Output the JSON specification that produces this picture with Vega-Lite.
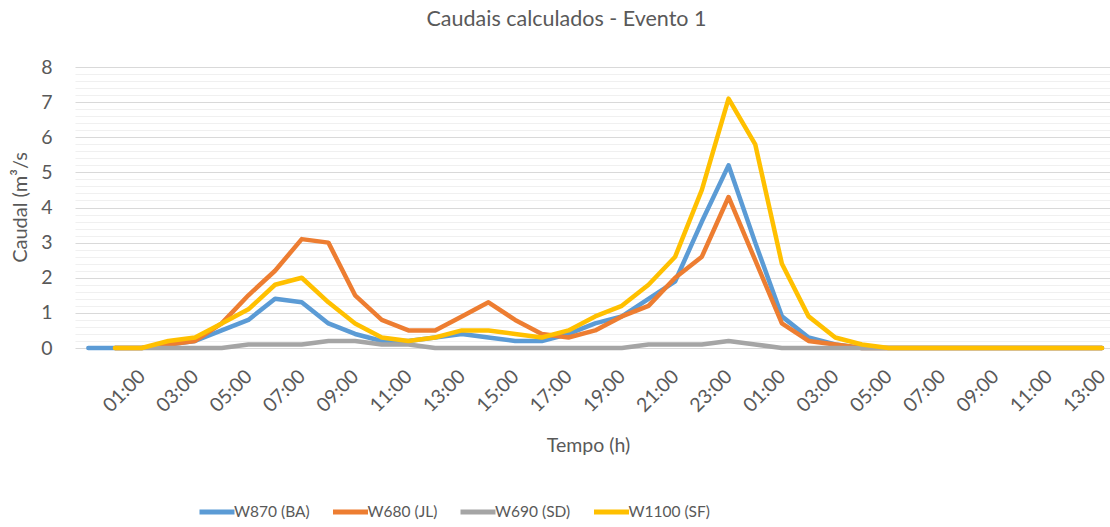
{
  "$schema": "https://vega.github.io/schema/vega-lite/v6.json",
  "width": 1035,
  "height": 281,
  "autosize": {"type": "none"},
  "padding": {"left": 75, "top": 67, "right": 0, "bottom": 179},
  "background": "white",
  "title": {
    "text": "Caudais calculados  - Evento 1",
    "anchor": "middle",
    "frame": "group",
    "dx": -26,
    "offset": 27,
    "font": "Lato",
    "fontSize": 21.5,
    "fontWeight": "normal",
    "color": "#595959"
  },
  "datasets": {
    "caudais": [
      {"passo": 0, "serie": "W870 (BA)", "caudal": 0},
      {"passo": 1, "serie": "W870 (BA)", "caudal": 0},
      {"passo": 2, "serie": "W870 (BA)", "caudal": 0},
      {"passo": 3, "serie": "W870 (BA)", "caudal": 0.1},
      {"passo": 4, "serie": "W870 (BA)", "caudal": 0.2},
      {"passo": 5, "serie": "W870 (BA)", "caudal": 0.5},
      {"passo": 6, "serie": "W870 (BA)", "caudal": 0.8},
      {"passo": 7, "serie": "W870 (BA)", "caudal": 1.4},
      {"passo": 8, "serie": "W870 (BA)", "caudal": 1.3},
      {"passo": 9, "serie": "W870 (BA)", "caudal": 0.7},
      {"passo": 10, "serie": "W870 (BA)", "caudal": 0.4},
      {"passo": 11, "serie": "W870 (BA)", "caudal": 0.2},
      {"passo": 12, "serie": "W870 (BA)", "caudal": 0.2},
      {"passo": 13, "serie": "W870 (BA)", "caudal": 0.3},
      {"passo": 14, "serie": "W870 (BA)", "caudal": 0.4},
      {"passo": 15, "serie": "W870 (BA)", "caudal": 0.3},
      {"passo": 16, "serie": "W870 (BA)", "caudal": 0.2},
      {"passo": 17, "serie": "W870 (BA)", "caudal": 0.2},
      {"passo": 18, "serie": "W870 (BA)", "caudal": 0.4},
      {"passo": 19, "serie": "W870 (BA)", "caudal": 0.7},
      {"passo": 20, "serie": "W870 (BA)", "caudal": 0.9},
      {"passo": 21, "serie": "W870 (BA)", "caudal": 1.4},
      {"passo": 22, "serie": "W870 (BA)", "caudal": 1.9},
      {"passo": 23, "serie": "W870 (BA)", "caudal": 3.6},
      {"passo": 24, "serie": "W870 (BA)", "caudal": 5.2},
      {"passo": 25, "serie": "W870 (BA)", "caudal": 3.0},
      {"passo": 26, "serie": "W870 (BA)", "caudal": 0.9},
      {"passo": 27, "serie": "W870 (BA)", "caudal": 0.3},
      {"passo": 28, "serie": "W870 (BA)", "caudal": 0.1},
      {"passo": 29, "serie": "W870 (BA)", "caudal": 0},
      {"passo": 30, "serie": "W870 (BA)", "caudal": 0},
      {"passo": 31, "serie": "W870 (BA)", "caudal": 0},
      {"passo": 32, "serie": "W870 (BA)", "caudal": 0},
      {"passo": 33, "serie": "W870 (BA)", "caudal": 0},
      {"passo": 34, "serie": "W870 (BA)", "caudal": 0},
      {"passo": 35, "serie": "W870 (BA)", "caudal": 0},
      {"passo": 36, "serie": "W870 (BA)", "caudal": 0},
      {"passo": 37, "serie": "W870 (BA)", "caudal": 0},
      {"passo": 38, "serie": "W870 (BA)", "caudal": 0},

      {"passo": 1, "serie": "W680 (JL)", "caudal": 0},
      {"passo": 2, "serie": "W680 (JL)", "caudal": 0},
      {"passo": 3, "serie": "W680 (JL)", "caudal": 0.1},
      {"passo": 4, "serie": "W680 (JL)", "caudal": 0.2},
      {"passo": 5, "serie": "W680 (JL)", "caudal": 0.7},
      {"passo": 6, "serie": "W680 (JL)", "caudal": 1.5},
      {"passo": 7, "serie": "W680 (JL)", "caudal": 2.2},
      {"passo": 8, "serie": "W680 (JL)", "caudal": 3.1},
      {"passo": 9, "serie": "W680 (JL)", "caudal": 3.0},
      {"passo": 10, "serie": "W680 (JL)", "caudal": 1.5},
      {"passo": 11, "serie": "W680 (JL)", "caudal": 0.8},
      {"passo": 12, "serie": "W680 (JL)", "caudal": 0.5},
      {"passo": 13, "serie": "W680 (JL)", "caudal": 0.5},
      {"passo": 14, "serie": "W680 (JL)", "caudal": 0.9},
      {"passo": 15, "serie": "W680 (JL)", "caudal": 1.3},
      {"passo": 16, "serie": "W680 (JL)", "caudal": 0.8},
      {"passo": 17, "serie": "W680 (JL)", "caudal": 0.4},
      {"passo": 18, "serie": "W680 (JL)", "caudal": 0.3},
      {"passo": 19, "serie": "W680 (JL)", "caudal": 0.5},
      {"passo": 20, "serie": "W680 (JL)", "caudal": 0.9},
      {"passo": 21, "serie": "W680 (JL)", "caudal": 1.2},
      {"passo": 22, "serie": "W680 (JL)", "caudal": 2.0},
      {"passo": 23, "serie": "W680 (JL)", "caudal": 2.6},
      {"passo": 24, "serie": "W680 (JL)", "caudal": 4.3},
      {"passo": 25, "serie": "W680 (JL)", "caudal": 2.5},
      {"passo": 26, "serie": "W680 (JL)", "caudal": 0.7},
      {"passo": 27, "serie": "W680 (JL)", "caudal": 0.2},
      {"passo": 28, "serie": "W680 (JL)", "caudal": 0.1},
      {"passo": 29, "serie": "W680 (JL)", "caudal": 0},
      {"passo": 30, "serie": "W680 (JL)", "caudal": 0},
      {"passo": 31, "serie": "W680 (JL)", "caudal": 0},
      {"passo": 32, "serie": "W680 (JL)", "caudal": 0},
      {"passo": 33, "serie": "W680 (JL)", "caudal": 0},
      {"passo": 34, "serie": "W680 (JL)", "caudal": 0},
      {"passo": 35, "serie": "W680 (JL)", "caudal": 0},
      {"passo": 36, "serie": "W680 (JL)", "caudal": 0},
      {"passo": 37, "serie": "W680 (JL)", "caudal": 0},
      {"passo": 38, "serie": "W680 (JL)", "caudal": 0},

      {"passo": 1, "serie": "W690 (SD)", "caudal": 0},
      {"passo": 2, "serie": "W690 (SD)", "caudal": 0},
      {"passo": 3, "serie": "W690 (SD)", "caudal": 0},
      {"passo": 4, "serie": "W690 (SD)", "caudal": 0},
      {"passo": 5, "serie": "W690 (SD)", "caudal": 0},
      {"passo": 6, "serie": "W690 (SD)", "caudal": 0.1},
      {"passo": 7, "serie": "W690 (SD)", "caudal": 0.1},
      {"passo": 8, "serie": "W690 (SD)", "caudal": 0.1},
      {"passo": 9, "serie": "W690 (SD)", "caudal": 0.2},
      {"passo": 10, "serie": "W690 (SD)", "caudal": 0.2},
      {"passo": 11, "serie": "W690 (SD)", "caudal": 0.1},
      {"passo": 12, "serie": "W690 (SD)", "caudal": 0.1},
      {"passo": 13, "serie": "W690 (SD)", "caudal": 0},
      {"passo": 14, "serie": "W690 (SD)", "caudal": 0},
      {"passo": 15, "serie": "W690 (SD)", "caudal": 0},
      {"passo": 16, "serie": "W690 (SD)", "caudal": 0},
      {"passo": 17, "serie": "W690 (SD)", "caudal": 0},
      {"passo": 18, "serie": "W690 (SD)", "caudal": 0},
      {"passo": 19, "serie": "W690 (SD)", "caudal": 0},
      {"passo": 20, "serie": "W690 (SD)", "caudal": 0},
      {"passo": 21, "serie": "W690 (SD)", "caudal": 0.1},
      {"passo": 22, "serie": "W690 (SD)", "caudal": 0.1},
      {"passo": 23, "serie": "W690 (SD)", "caudal": 0.1},
      {"passo": 24, "serie": "W690 (SD)", "caudal": 0.2},
      {"passo": 25, "serie": "W690 (SD)", "caudal": 0.1},
      {"passo": 26, "serie": "W690 (SD)", "caudal": 0},
      {"passo": 27, "serie": "W690 (SD)", "caudal": 0},
      {"passo": 28, "serie": "W690 (SD)", "caudal": 0},
      {"passo": 29, "serie": "W690 (SD)", "caudal": 0},
      {"passo": 30, "serie": "W690 (SD)", "caudal": 0},
      {"passo": 31, "serie": "W690 (SD)", "caudal": 0},
      {"passo": 32, "serie": "W690 (SD)", "caudal": 0},
      {"passo": 33, "serie": "W690 (SD)", "caudal": 0},
      {"passo": 34, "serie": "W690 (SD)", "caudal": 0},
      {"passo": 35, "serie": "W690 (SD)", "caudal": 0},
      {"passo": 36, "serie": "W690 (SD)", "caudal": 0},
      {"passo": 37, "serie": "W690 (SD)", "caudal": 0},
      {"passo": 38, "serie": "W690 (SD)", "caudal": 0},

      {"passo": 1, "serie": "W1100 (SF)", "caudal": 0},
      {"passo": 2, "serie": "W1100 (SF)", "caudal": 0},
      {"passo": 3, "serie": "W1100 (SF)", "caudal": 0.2},
      {"passo": 4, "serie": "W1100 (SF)", "caudal": 0.3},
      {"passo": 5, "serie": "W1100 (SF)", "caudal": 0.7},
      {"passo": 6, "serie": "W1100 (SF)", "caudal": 1.1},
      {"passo": 7, "serie": "W1100 (SF)", "caudal": 1.8},
      {"passo": 8, "serie": "W1100 (SF)", "caudal": 2.0},
      {"passo": 9, "serie": "W1100 (SF)", "caudal": 1.3},
      {"passo": 10, "serie": "W1100 (SF)", "caudal": 0.7},
      {"passo": 11, "serie": "W1100 (SF)", "caudal": 0.3},
      {"passo": 12, "serie": "W1100 (SF)", "caudal": 0.2},
      {"passo": 13, "serie": "W1100 (SF)", "caudal": 0.3},
      {"passo": 14, "serie": "W1100 (SF)", "caudal": 0.5},
      {"passo": 15, "serie": "W1100 (SF)", "caudal": 0.5},
      {"passo": 16, "serie": "W1100 (SF)", "caudal": 0.4},
      {"passo": 17, "serie": "W1100 (SF)", "caudal": 0.3},
      {"passo": 18, "serie": "W1100 (SF)", "caudal": 0.5},
      {"passo": 19, "serie": "W1100 (SF)", "caudal": 0.9},
      {"passo": 20, "serie": "W1100 (SF)", "caudal": 1.2},
      {"passo": 21, "serie": "W1100 (SF)", "caudal": 1.8},
      {"passo": 22, "serie": "W1100 (SF)", "caudal": 2.6},
      {"passo": 23, "serie": "W1100 (SF)", "caudal": 4.5},
      {"passo": 24, "serie": "W1100 (SF)", "caudal": 7.1},
      {"passo": 25, "serie": "W1100 (SF)", "caudal": 5.8},
      {"passo": 26, "serie": "W1100 (SF)", "caudal": 2.4},
      {"passo": 27, "serie": "W1100 (SF)", "caudal": 0.9},
      {"passo": 28, "serie": "W1100 (SF)", "caudal": 0.3},
      {"passo": 29, "serie": "W1100 (SF)", "caudal": 0.1},
      {"passo": 30, "serie": "W1100 (SF)", "caudal": 0},
      {"passo": 31, "serie": "W1100 (SF)", "caudal": 0},
      {"passo": 32, "serie": "W1100 (SF)", "caudal": 0},
      {"passo": 33, "serie": "W1100 (SF)", "caudal": 0},
      {"passo": 34, "serie": "W1100 (SF)", "caudal": 0},
      {"passo": 35, "serie": "W1100 (SF)", "caudal": 0},
      {"passo": 36, "serie": "W1100 (SF)", "caudal": 0},
      {"passo": 37, "serie": "W1100 (SF)", "caudal": 0},
      {"passo": 38, "serie": "W1100 (SF)", "caudal": 0}
    ]
  },
  "data": {"name": "caudais"},
  "mark": {"type": "line", "strokeWidth": 4.5, "strokeCap": "round", "strokeJoin": "round"},
  "encoding": {
    "x": {
      "field": "passo",
      "type": "quantitative",
      "scale": {"domain": [-0.5, 38.3], "nice": false, "zero": false},
      "axis": {
        "title": "Tempo (h)",
        "values": [2, 4, 6, 8, 10, 12, 14, 16, 18, 20, 22, 24, 26, 28, 30, 32, 34, 36, 38],
        "labelExpr": "((datum.value + 23) % 24 < 10 ? '0' : '') + ((datum.value + 23) % 24) + ':00'",
        "labelAngle": -45,
        "labelAlign": "right",
        "labelBaseline": "middle",
        "labelPadding": 25,
        "labelFlush": false,
        "labelOverlap": false,
        "ticks": false,
        "domain": false,
        "grid": false,
        "labelFont": "Lato",
        "labelFontSize": 19.5,
        "labelColor": "#595959",
        "titleFont": "Lato",
        "titleFontSize": 19.5,
        "titleFontWeight": "normal",
        "titleColor": "#595959",
        "titleX": 513,
        "titleY": 97,
        "titleAlign": "center",
        "titleBaseline": "middle"
      }
    },
    "y": {
      "field": "caudal",
      "type": "quantitative",
      "scale": {"domain": [0, 8], "nice": false},
      "axis": {
        "title": "Caudal (m³/s",
        "values": [0, 0.2, 0.4, 0.6, 0.8, 1, 1.2, 1.4, 1.6, 1.8, 2, 2.2, 2.4, 2.6, 2.8, 3, 3.2, 3.4, 3.6, 3.8, 4, 4.2, 4.4, 4.6, 4.8, 5, 5.2, 5.4, 5.6, 5.8, 6, 6.2, 6.4, 6.6, 6.8, 7, 7.2, 7.4, 7.6, 7.8, 8],
        "labelExpr": "datum.value % 1 === 0 ? format(datum.value, 'd') : ''",
        "gridColor": {"condition": {"test": "datum.value % 1 === 0", "value": "#D9D9D9"}, "value": "#F0F0F0"},
        "gridWidth": 1.2,
        "ticks": false,
        "domain": false,
        "labelPadding": 23,
        "labelFont": "Lato",
        "labelFontSize": 19.5,
        "labelColor": "#595959",
        "titleFont": "Lato",
        "titleFontSize": 20,
        "titleFontWeight": "normal",
        "titleColor": "#595959",
        "titleX": -55,
        "titleY": 140,
        "titleAngle": -90,
        "titleAlign": "center",
        "titleBaseline": "middle"
      }
    },
    "color": {
      "field": "serie",
      "type": "nominal",
      "scale": {
        "domain": ["W870 (BA)", "W680 (JL)", "W690 (SD)", "W1100 (SF)"],
        "range": ["#5B9BD5", "#ED7D31", "#A5A5A5", "#FFC000"]
      },
      "legend": {
        "orient": "none",
        "legendX": 122,
        "legendY": 425,
        "direction": "horizontal",
        "gridAlign": "none",
        "title": null,
        "symbolType": "stroke",
        "symbolSize": 1225,
        "symbolStrokeWidth": 5,
        "labelFont": "Lato",
        "labelFontSize": 15.5,
        "labelColor": "#595959",
        "labelOffset": -3,
        "columnPadding": 12.5,
        "padding": 0
      }
    }
  },
  "config": {"view": {"stroke": null}}
}
